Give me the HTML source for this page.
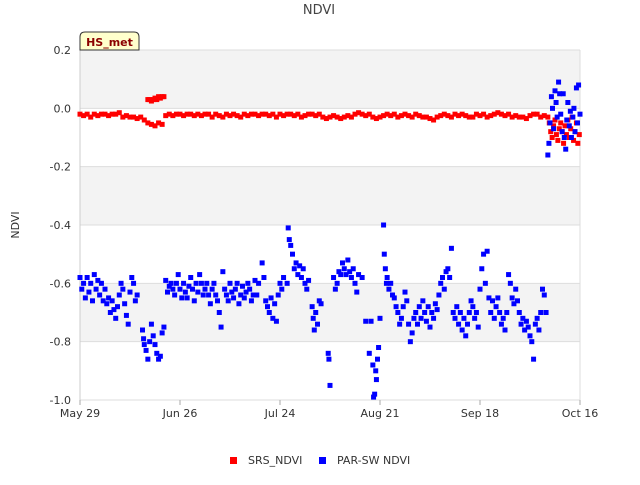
<!DOCTYPE html>
<html><head><meta charset="utf-8"><style>
body{margin:0;background:#fff;font-family:"Liberation Sans",sans-serif}
svg text{font-family:"DejaVu Sans","Liberation Sans",sans-serif}
</style></head><body>
<svg id="chart" width="640" height="480" viewBox="0 0 640 480">
<text x="319" y="14" text-anchor="middle" font-size="13" fill="#444">NDVI</text>
<text x="19" y="225" text-anchor="middle" font-size="11" fill="#333" transform="rotate(-90 19 225)">NDVI</text>
<g id="bands"></g>
<g id="grid"></g>
<g id="yticks"></g>
<g id="xticks"></g>
<g id="srs"></g>
<g id="par"></g>
<g>
<path d="M80,50 L80,37 Q80,32 85,32 L134,32 Q139,32 139,37 L139,50 Z" fill="#ffffcc" stroke="#333" stroke-width="1"/>
<text x="109.5" y="46" text-anchor="middle" font-size="11" font-weight="bold" fill="#8b0000">HS_met</text>
</g>
<g>
<g><rect x="230" y="457" width="7" height="7" fill="#ff0000"/><text x="248" y="464" font-size="11" fill="#333">SRS_NDVI</text></g>
<g><rect x="319" y="457" width="7" height="7" fill="#0000ff"/><text x="337" y="464" font-size="11" fill="#333">PAR-SW NDVI</text></g>
</g>
</svg>
<script>
const yTicks=[0.2,0.0,-0.2,-0.4,-0.6,-0.8,-1.0];
const yTickLabels=["0.2","0.0","-0.2","-0.4","-0.6","-0.8","-1.0"];
const xTickDays=[0,28,56,84,112,140];
const xTickLabels=["May 29","Jun 26","Jul 24","Aug 21","Sep 18","Oct 16"];
const srsVals=[-0.02,-0.025,-0.02,-0.03,-0.02,-0.025,-0.02,-0.02,-0.025,-0.02,-0.02,-0.015,-0.03,-0.025,-0.03,-0.03,-0.035,-0.03,-0.04,-0.05,-0.055,-0.06,-0.05,-0.055,-0.025,-0.02,-0.025,-0.02,-0.02,-0.025,-0.02,-0.02,-0.025,-0.02,-0.025,-0.02,-0.02,-0.03,-0.02,-0.025,-0.03,-0.02,-0.025,-0.02,-0.025,-0.03,-0.02,-0.025,-0.02,-0.02,-0.025,-0.02,-0.02,-0.025,-0.02,-0.03,-0.02,-0.025,-0.02,-0.02,-0.025,-0.02,-0.03,-0.025,-0.02,-0.02,-0.025,-0.02,-0.03,-0.035,-0.03,-0.025,-0.03,-0.035,-0.03,-0.025,-0.03,-0.02,-0.015,-0.02,-0.025,-0.02,-0.03,-0.035,-0.03,-0.025,-0.02,-0.025,-0.02,-0.03,-0.025,-0.02,-0.025,-0.03,-0.02,-0.025,-0.03,-0.03,-0.035,-0.04,-0.03,-0.025,-0.02,-0.025,-0.03,-0.02,-0.025,-0.02,-0.025,-0.03,-0.03,-0.02,-0.025,-0.02,-0.03,-0.025,-0.02,-0.015,-0.02,-0.025,-0.02,-0.03,-0.025,-0.03,-0.03,-0.035,-0.025,-0.02,-0.02,-0.03,-0.025];
const srsExtraDays=[19,19.5,20,20.5,21,21.5,22,22.5,23,23.5,131,131.4,131.8,132.2,132.6,133,133.4,133.8,134.2,134.6,135,135.4,135.8,136.2,136.6,137,137.4,137.8,138.2,138.6,139,139.4,139.8];
const srsExtraVals=[0.03,0.03,0.025,0.03,0.035,0.03,0.04,0.035,0.04,0.04,-0.03,-0.05,-0.08,-0.1,-0.06,-0.04,-0.09,-0.11,-0.07,-0.05,-0.08,-0.12,-0.06,-0.09,-0.04,-0.1,-0.07,-0.03,-0.11,-0.08,-0.05,-0.12,-0.09];
const parDays=[0,0.5,1,1.5,2,2.5,3,3.5,4,4.5,5,5.5,6,6.5,7,7.5,8,8.5,9,9.5,10,10.5,11,11.5,12,12.5,13,13.5,14,14.5,15,15.5,16,
17.5,17.8,18,18.5,19,19.5,20,20.5,21,21.5,22,22.5,23,23.5,
24,24.5,25,25.5,26,26.5,27,27.5,28,28.5,29,29.5,30,30.5,31,31.5,32,32.5,33,33.5,34,34.5,35,
35.5,36,36.5,37,37.5,38,38.5,39,39.5,40,40.5,41,41.5,42,42.5,43,43.5,44,44.5,45,45.5,46,46.5,47,47.5,48,48.5,49,49.5,50,
51,51.5,52,52.5,53,53.5,54,54.5,55,55.5,56,56.5,57,
58,58.3,58.6,59,59.5,60,60.5,61,61.5,62,62.5,63,63.5,64,
65,65.3,65.6,66,66.5,67,67.5,69.5,69.7,70,
71,71.5,72,72.5,73,73.5,74,74.5,75,75.5,76,76.5,77,77.5,78,79,80,
81,81.5,82,82.2,82.5,82.8,83,83.3,83.6,84,
85,85.2,85.5,85.8,86,86.5,87,87.5,88,88.5,89,89.5,90,90.5,91,91.5,
92,92.5,93,93.5,94,94.5,95,95.5,96,96.5,97,97.5,98,98.5,99,99.5,100,
100.5,101,101.5,102,102.5,103,103.5,104,
104.5,105,105.5,106,106.5,107,107.5,108,108.5,109,109.5,110,110.5,111,111.5,112,
112.5,113,113.5,114,114.5,115,115.5,116,116.5,117,117.5,118,
118.5,119,119.5,120,120.5,121,121.5,122,122.5,123,123.5,124,124.5,125,125.5,126,126.5,127,127.5,128,128.5,129,129.5,130,130.5,
131,131.3,131.6,132,132.3,132.6,133,133.3,133.6,134,134.3,134.6,135,135.3,135.6,136,136.3,136.6,137,137.3,137.6,138,138.3,138.6,139,139.3,139.6,140];
const parVals=[-0.58,-0.62,-0.6,-0.65,-0.58,-0.63,-0.6,-0.66,-0.57,-0.62,-0.59,-0.64,-0.6,-0.66,-0.62,-0.67,-0.65,-0.7,-0.66,-0.69,-0.72,-0.68,-0.64,-0.6,-0.62,-0.67,-0.71,-0.74,-0.63,-0.58,-0.6,-0.66,-0.64,
-0.76,-0.79,-0.81,-0.83,-0.86,-0.8,-0.74,-0.78,-0.81,-0.84,-0.86,-0.85,-0.77,-0.75,
-0.59,-0.63,-0.61,-0.6,-0.62,-0.64,-0.6,-0.57,-0.62,-0.65,-0.6,-0.63,-0.65,-0.61,-0.58,-0.62,-0.66,-0.6,-0.63,-0.57,-0.6,-0.64,-0.62,
-0.6,-0.64,-0.67,-0.62,-0.6,-0.64,-0.66,-0.7,-0.75,-0.56,-0.62,-0.64,-0.66,-0.6,-0.63,-0.65,-0.62,-0.6,-0.67,-0.64,-0.61,-0.65,-0.63,-0.6,-0.62,-0.66,-0.64,-0.59,-0.64,-0.6,
-0.53,-0.58,-0.66,-0.68,-0.7,-0.65,-0.72,-0.67,-0.73,-0.64,-0.6,-0.62,-0.58,
-0.6,-0.41,-0.45,-0.47,-0.5,-0.55,-0.53,-0.57,-0.54,-0.58,-0.55,-0.6,-0.62,-0.59,
-0.68,-0.72,-0.76,-0.7,-0.74,-0.66,-0.67,-0.84,-0.86,-0.95,
-0.58,-0.62,-0.6,-0.56,-0.57,-0.53,-0.55,-0.57,-0.52,-0.56,-0.58,-0.55,-0.6,-0.63,-0.57,-0.58,-0.73,
-0.84,-0.73,-0.88,-0.99,-0.98,-0.9,-0.93,-0.86,-0.82,-0.72,
-0.4,-0.5,-0.55,-0.6,-0.58,-0.62,-0.6,-0.64,-0.65,-0.68,-0.7,-0.74,-0.72,-0.68,-0.63,-0.66,
-0.74,-0.8,-0.77,-0.72,-0.7,-0.74,-0.68,-0.72,-0.66,-0.7,-0.73,-0.68,-0.75,-0.7,-0.72,-0.67,-0.69,
-0.64,-0.6,-0.58,-0.62,-0.56,-0.55,-0.58,-0.48,
-0.7,-0.72,-0.68,-0.74,-0.7,-0.76,-0.72,-0.78,-0.74,-0.7,-0.66,-0.68,-0.72,-0.7,-0.75,-0.62,
-0.55,-0.5,-0.6,-0.49,-0.65,-0.7,-0.66,-0.72,-0.68,-0.65,-0.7,-0.74,
-0.72,-0.76,-0.7,-0.57,-0.6,-0.65,-0.67,-0.62,-0.66,-0.7,-0.74,-0.72,-0.76,-0.73,-0.75,-0.78,-0.8,-0.86,-0.74,-0.72,-0.76,-0.7,-0.62,-0.64,-0.7,
-0.16,-0.12,-0.05,0.04,0.0,-0.07,0.06,0.02,-0.03,0.09,0.05,-0.02,-0.08,0.05,-0.1,-0.14,-0.04,0.02,-0.06,-0.01,-0.1,-0.03,0.0,-0.08,0.07,-0.05,0.08,-0.02];

const X0=80,X1=580,Y0=50,Y1=400,DMAX=140,VMIN=-1.0,VMAX=0.2;
const xs=d=>X0+(d/DMAX)*(X1-X0);
const ys=v=>Y0+(VMAX-v)/(VMAX-VMIN)*(Y1-Y0);
const NS="http://www.w3.org/2000/svg";
function mk(tag,attrs,parent){const e=document.createElementNS(NS,tag);for(const k in attrs)e.setAttribute(k,attrs[k]);parent.appendChild(e);return e;}
const bands=document.getElementById('bands'),grid=document.getElementById('grid'),yt=document.getElementById('yticks'),xt=document.getElementById('xticks');
for(let i=0;i<yTicks.length-1;i++){
  if(i%2===0){const r=mk('rect',{x:X0,y:ys(yTicks[i]),width:X1-X0,height:ys(yTicks[i+1])-ys(yTicks[i]),fill:'#f3f3f3'},bands);
  
  }
}
yTicks.forEach((v,i)=>{
  const l=mk('line',{x1:X0,x2:X1,y1:ys(v),y2:ys(v),stroke:'#dddddd','stroke-width':1},grid);
  
  
  const t=mk('text',{x:X0-9,y:ys(v)+4,'text-anchor':'end','font-size':11,fill:'#333'},yt);
  t.textContent=yTickLabels[i];
  
  
});
mk('line',{x1:X0,x2:X0,y1:Y0,y2:Y1,stroke:'#cccccc'},grid);
mk('line',{x1:X1,x2:X1,y1:Y0,y2:Y1,stroke:'#dddddd'},grid);
xTickDays.forEach((d,i)=>{
  mk('line',{x1:xs(d),x2:xs(d),y1:Y1,y2:Y1+5,stroke:'#aaa'},xt);
  const t=mk('text',{x:xs(d),y:Y1+17,'text-anchor':'middle','font-size':11,fill:'#333'},xt);
  t.textContent=xTickLabels[i];
  
  
});
const srsG=document.getElementById('srs'),parG=document.getElementById('par');
function pt(g,d,v,c,name){const r=mk('rect',{x:xs(d)-2.5,y:ys(v)-2.5,width:5,height:5,fill:c},g);
  
  }
srsVals.forEach((v,i)=>pt(srsG,i,v,'#ff0000','srs-point'));
srsExtraDays.forEach((d,i)=>pt(srsG,d,srsExtraVals[i],'#ff0000','srs-point'));
parDays.forEach((d,i)=>pt(parG,d,parVals[i],'#0000ff','par-point'));
</script>
</body></html>
